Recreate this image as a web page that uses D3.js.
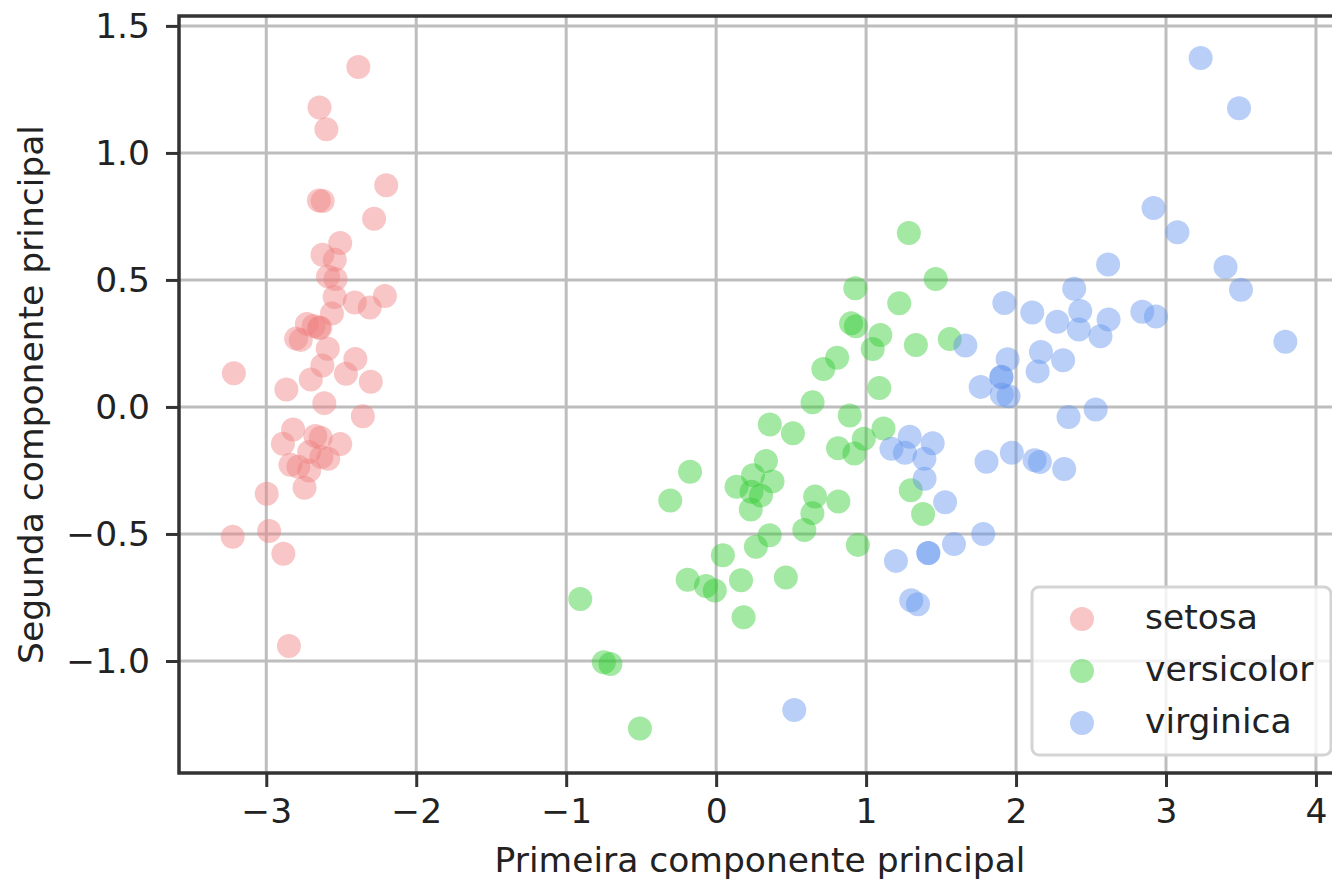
<!DOCTYPE html>
<html>
<head>
<meta charset="utf-8">
<script src="https://cdn.jsdelivr.net/npm/d3@7"></script>
<style>
  html, body { margin: 0; padding: 0; background: #fff; }
  svg { display: block; font-family: "DejaVu Sans", sans-serif; }
</style>
</head>
<body>
<div id="chart"></div>
<script>
// PCA projection of the iris data, [first component, second component]
var setosa = [
  [-2.684, 0.319], [-2.714, -0.177], [-2.889, -0.145], [-2.745, -0.318], [-2.729, 0.327],
  [-2.281, 0.741], [-2.821, -0.089], [-2.626, 0.163], [-2.886, -0.578], [-2.673, -0.114],
  [-2.507, 0.645], [-2.613, 0.015], [-2.786, -0.235], [-3.224, -0.511], [-2.645, 1.179],
  [-2.386, 1.338], [-2.624, 0.811], [-2.648, 0.312], [-2.200, 0.873], [-2.588, 0.514],
  [-2.310, 0.391], [-2.544, 0.433], [-3.216, 0.133], [-2.303, 0.099], [-2.356, -0.037],
  [-2.507, -0.146], [-2.469, 0.131], [-2.562, 0.368], [-2.640, 0.312], [-2.632, -0.197],
  [-2.587, -0.204], [-2.410, 0.411], [-2.649, 0.813], [-2.599, 1.093], [-2.637, -0.121],
  [-2.866, 0.069], [-2.625, 0.599], [-2.801, 0.269], [-2.981, -0.488], [-2.590, 0.229],
  [-2.770, 0.264], [-2.849, -0.941], [-2.997, -0.342], [-2.406, 0.189], [-2.209, 0.437],
  [-2.714, -0.250], [-2.538, 0.504], [-2.839, -0.228], [-2.543, 0.579], [-2.703, 0.108]
];
var versicolor = [
  [1.285, 0.685], [0.932, 0.318], [1.464, 0.504], [0.183, -0.828], [1.088, 0.075],
  [0.642, -0.418], [1.095, 0.283], [-0.749, -1.005], [1.044, 0.228], [-0.009, -0.723],
  [-0.508, -1.266], [0.512, -0.104], [0.265, -0.550], [0.985, -0.125], [-0.174, -0.255],
  [0.928, 0.467], [0.660, -0.353], [0.236, -0.334], [0.945, -0.543], [0.045, -0.584],
  [1.116, -0.085], [0.358, -0.069], [1.298, -0.328], [0.922, -0.183], [0.715, 0.149],
  [0.900, 0.329], [1.332, 0.244], [1.558, 0.267], [0.813, -0.163], [-0.306, -0.368],
  [-0.068, -0.705], [-0.190, -0.680], [0.136, -0.314], [1.380, -0.421], [0.588, -0.484],
  [0.807, 0.194], [1.221, 0.408], [0.815, -0.372], [0.246, -0.269], [0.166, -0.682],
  [0.465, -0.671], [0.891, -0.034], [0.231, -0.404], [-0.705, -1.012], [0.357, -0.505],
  [0.332, -0.213], [0.376, -0.293], [0.643, 0.018], [-0.906, -0.756], [0.299, -0.349]
];
var virginica = [
  [2.531, -0.010], [1.415, -0.575], [2.617, 0.344], [1.972, -0.180], [2.350, -0.040],
  [3.397, 0.551], [0.521, -1.193], [2.933, 0.356], [2.321, -0.244], [2.917, 0.783],
  [1.662, 0.242], [1.803, -0.216], [2.166, 0.216], [1.346, -0.777], [1.586, -0.540],
  [1.904, 0.119], [1.950, 0.042], [3.487, 1.176], [3.796, 0.257], [1.301, -0.761],
  [2.428, 0.378], [1.199, -0.606], [3.500, 0.461], [1.389, -0.204], [2.275, 0.335],
  [2.614, 0.561], [1.259, -0.180], [1.291, -0.117], [2.124, -0.210], [2.388, 0.465],
  [2.842, 0.375], [3.231, 1.374], [2.159, -0.217], [1.444, -0.143], [1.781, -0.500],
  [3.076, 0.688], [2.144, 0.140], [1.905, 0.049], [1.169, -0.165], [2.108, 0.372],
  [2.314, 0.184], [1.922, 0.409], [1.415, -0.575], [2.563, 0.278], [2.419, 0.305],
  [1.944, 0.188], [1.527, -0.375], [1.764, 0.079], [1.901, 0.117], [1.390, -0.283]
];
var speciesNames = ["setosa", "versicolor", "virginica"];
var speciesColors = ["lightcoral", "limegreen", "cornflowerblue"];
var xTicks = [-3, -2, -1, 0, 1, 2, 3, 4];
var yTicks = [-1.0, -0.5, 0.0, 0.5, 1.0, 1.5];
var xLabel = "Primeira componente principal";
var yLabel = "Segunda componente principal";

var series = [setosa, versicolor, virginica];

var W = 1332, H = 882;
var plotLeft = 179, plotRight = 1338, plotTop = 16, plotBottom = 773;
var fs = 34.5;
var dotAlpha = 0.45;

var x = d3.scaleLinear().domain([-3.582, 4.147]).range([plotLeft, plotRight]);
var y = d3.scaleLinear().domain([-1.441, 1.539]).range([plotBottom, plotTop]);

var fmt = function (v) { return d3.format(".1f")(v).replace("-", "\u2212"); };
var fmtX = function (v) { return String(v).replace("-", "\u2212"); };

var svg = d3.select("#chart").append("svg")
  .attr("width", W)
  .attr("height", H);

// grid
svg.append("g").selectAll("line")
  .data(xTicks).enter().append("line")
  .attr("x1", d => x(d)).attr("x2", d => x(d))
  .attr("y1", plotTop).attr("y2", plotBottom)
  .attr("stroke", "#bdbdbd").attr("stroke-width", 3);

svg.append("g").selectAll("line")
  .data(yTicks).enter().append("line")
  .attr("x1", plotLeft).attr("x2", plotRight)
  .attr("y1", d => y(d)).attr("y2", d => y(d))
  .attr("stroke", "#bdbdbd").attr("stroke-width", 3);

// points
series.forEach(function (pts, i) {
  svg.append("g").selectAll("circle")
    .data(pts).enter().append("circle")
    .attr("cx", d => x(d[0]))
    .attr("cy", d => y(d[1]))
    .attr("r", 12)
    .attr("fill", speciesColors[i])
    .attr("fill-opacity", dotAlpha);
});

// axes via d3, restyled
var xAxis = d3.axisBottom(x).tickValues(xTicks).tickFormat(fmtX).tickSizeInner(14).tickSizeOuter(0).tickPadding(10);
var yAxis = d3.axisLeft(y).tickValues(yTicks).tickFormat(fmt).tickSizeInner(13).tickSizeOuter(0).tickPadding(10);

var gx = svg.append("g").attr("transform", "translate(0," + plotBottom + ")").call(xAxis);
var gy = svg.append("g").attr("transform", "translate(" + plotLeft + ",0)").call(yAxis);

[gx, gy].forEach(function (g) {
  g.select(".domain").remove();
  g.selectAll(".tick line").attr("stroke", "#333").attr("stroke-width", 3);
  g.selectAll(".tick text").attr("fill", "#222").style("font-size", fs + "px")
    .style("font-family", "'DejaVu Sans', sans-serif");
});
gx.selectAll(".tick text").attr("dy", null).attr("y", 50);
gy.selectAll(".tick text").attr("dy", null).attr("x", -29).attr("y", 12);

// spines
svg.append("rect")
  .attr("x", plotLeft).attr("y", plotTop)
  .attr("width", plotRight - plotLeft).attr("height", plotBottom - plotTop)
  .attr("fill", "none").attr("stroke", "#333").attr("stroke-width", 3.5);

// axis labels
svg.append("text")
  .attr("x", 760).attr("y", 872)
  .attr("text-anchor", "middle")
  .attr("fill", "#222")
  .style("font-size", fs + "px")
  .text(xLabel);

svg.append("text")
  .attr("transform", "translate(43," + ((plotTop + plotBottom) / 2) + ") rotate(-90)")
  .attr("text-anchor", "middle")
  .attr("fill", "#222")
  .style("font-size", fs + "px")
  .text(yLabel);

// legend
var legend = svg.append("g");
legend.append("rect")
  .attr("x", 1032).attr("y", 587)
  .attr("width", 299).attr("height", 168)
  .attr("rx", 7)
  .attr("fill", "#fff").attr("fill-opacity", 0.8)
  .attr("stroke", "#d4d4d4").attr("stroke-width", 3);

var item = legend.selectAll("g")
  .data(speciesNames).enter().append("g")
  .attr("transform", (d, i) => "translate(0," + (619 + i * 52) + ")");

item.append("circle")
  .attr("cx", 1082).attr("cy", 0).attr("r", 12)
  .attr("fill", (d, i) => speciesColors[i])
  .attr("fill-opacity", dotAlpha);

item.append("text")
  .attr("x", 1145).attr("y", 10)
  .attr("fill", "#222")
  .style("font-size", fs + "px")
  .text(d => d);
</script>
</body>
</html>
